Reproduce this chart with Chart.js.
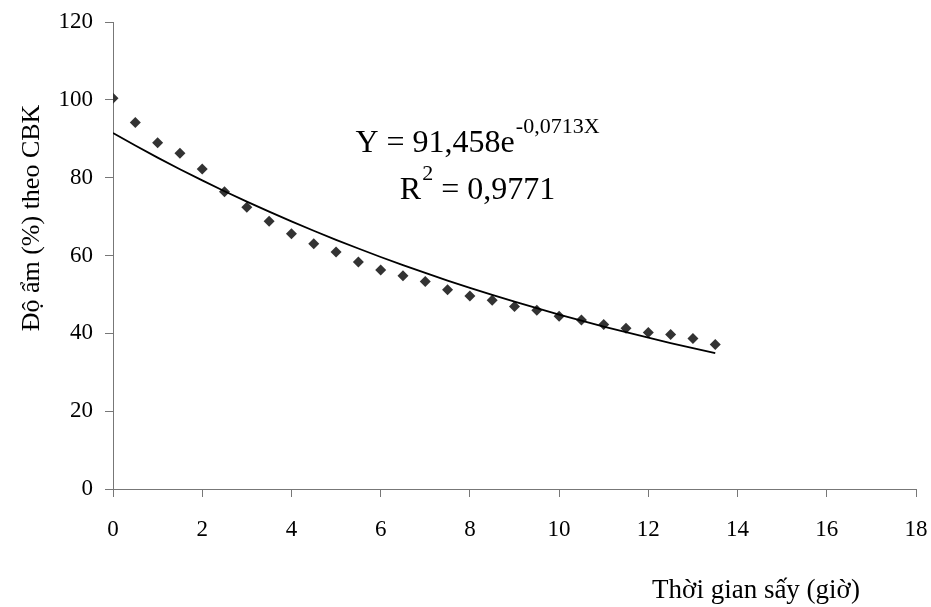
<!DOCTYPE html>
<html>
<head>
<meta charset="utf-8">
<script src="https://cdn.jsdelivr.net/npm/chart.js@4/dist/chart.umd.min.js"></script>
<style>
html,body{margin:0;padding:0;background:#fff;}
#wrap{width:931px;height:607px;position:relative;}
</style>
</head>
<body>
<div id="wrap"><canvas id="c" width="931" height="607"></canvas></div>
<script>
// ---- data ----
const timeHours = [0,0.5,1,1.5,2,2.5,3,3.5,4,4.5,5,5.5,6,6.5,7,7.5,8,8.5,9,9.5,10,10.5,11,11.5,12,12.5,13,13.5];
const moisture  = [100.4,94.2,89.0,86.3,82.2,76.4,72.4,68.8,65.6,63.0,60.9,58.3,56.3,54.8,53.3,51.2,49.6,48.5,46.9,45.9,44.4,43.4,42.3,41.3,40.2,39.7,38.7,37.1];
const trendValues = [91.46,88.25,85.16,82.18,79.30,76.52,73.84,71.26,68.76,66.35,64.03,61.79,59.62,57.53,55.52,53.57,51.70,49.89,48.14,46.45,44.83,43.26,41.74,40.28,38.87,37.51,36.19,34.93];
const xTicks = [0,2,4,6,8,10,12,14,16,18];
const yTicks = [0,20,40,60,80,100,120];
const xTitle = "Thời gian sấy (giờ)";
const yTitle = "Độ ẩm (%) theo CBK";
const eqMain = "Y = 91,458e";
const eqExp = "-0,0713X";
const r2Pre = "R";
const r2Sup = "2";
const r2Post = " = 0,9771";

const FONT = '"Liberation Serif", "Times New Roman", serif';

const textPlugin = {
  id: 'texts',
  afterDraw(chart) {
    const ctx = chart.ctx;
    ctx.save();
    ctx.fillStyle = '#000';
    ctx.textBaseline = 'alphabetic';
    // equation
    const cx = 477;
    const big = '32px ' + FONT, small = '22px ' + FONT;
    ctx.font = big; const w1 = ctx.measureText(eqMain).width;
    ctx.font = small; const w2 = ctx.measureText(eqExp).width;
    let x = cx - (w1 + w2) / 2;
    ctx.textAlign = 'left';
    ctx.font = big; ctx.fillText(eqMain, x, 152);
    ctx.font = small; ctx.fillText(eqExp, x + w1 + 1, 133);
    ctx.font = big; const r1 = ctx.measureText(r2Pre).width;
    ctx.font = small; const r2 = ctx.measureText(r2Sup).width;
    ctx.font = big; const r3 = ctx.measureText(r2Post).width;
    x = cx - (r1 + r2 + r3) / 2;
    ctx.font = big; ctx.fillText(r2Pre, x, 199);
    ctx.font = small; ctx.fillText(r2Sup, x + r1 + 1, 180);
    ctx.font = big; ctx.fillText(r2Post, x + r1 + r2 + 1, 199);
    // x title
    ctx.font = '27px ' + FONT;
    ctx.textAlign = 'center';
    ctx.fillText(xTitle, 756, 598);
    // y title
    ctx.translate(39, 218);
    ctx.rotate(-Math.PI / 2);
    ctx.font = '26px ' + FONT;
    ctx.fillText(yTitle, 0, 0);
    ctx.restore();
  }
};

new Chart(document.getElementById('c'), {
  type: 'scatter',
  data: {
    datasets: [
      {
        type: 'line',
        label: 'trend',
        data: timeHours.map((t, i) => ({x: t, y: trendValues[i]})),
        borderColor: '#000',
        borderWidth: 1.8,
        pointRadius: 0,
        tension: 0,
        fill: false,
        order: 0
      },
      {
        label: 'moisture',
        data: timeHours.map((t, i) => ({x: t, y: moisture[i]})),
        pointStyle: 'rectRot',
        pointRadius: 5.5,
        pointHoverRadius: 5.5,
        backgroundColor: '#333',
        borderColor: '#333',
        borderWidth: 0,
        order: 1
      }
    ]
  },
  options: {
    responsive: false,
    animation: false,
    events: [],
    layout: {padding: {left: 0, right: 15, top: 22, bottom: 0}},
    plugins: {legend: {display: false}, tooltip: {enabled: false}},
    scales: {
      x: {
        type: 'linear', min: 0, max: 18,
        afterBuildTicks: s => { s.ticks = xTicks.map(v => ({value: v})); },
        afterFit: s => { s.height = 118; s.paddingLeft = 0; s.paddingRight = 0; },
        grid: {display: true, drawOnChartArea: false, drawTicks: true, tickLength: 8, color: '#777', lineWidth: 1},
        border: {display: true, color: '#777', width: 1},
        ticks: {color: '#000', font: {family: FONT, size: 23}, padding: 19, maxRotation: 0}
      },
      y: {
        type: 'linear', min: 0, max: 120,
        afterBuildTicks: s => { s.ticks = yTicks.map(v => ({value: v})); },
        afterFit: s => { s.width = 113; s.paddingTop = 0; s.paddingBottom = 0; },
        grid: {display: true, drawOnChartArea: false, drawTicks: true, tickLength: 8, color: '#777', lineWidth: 1},
        border: {display: true, color: '#777', width: 1},
        ticks: {color: '#000', font: {family: FONT, size: 23}, padding: 12}
      }
    }
  },
  plugins: [textPlugin]
});
</script>
</body>
</html>
